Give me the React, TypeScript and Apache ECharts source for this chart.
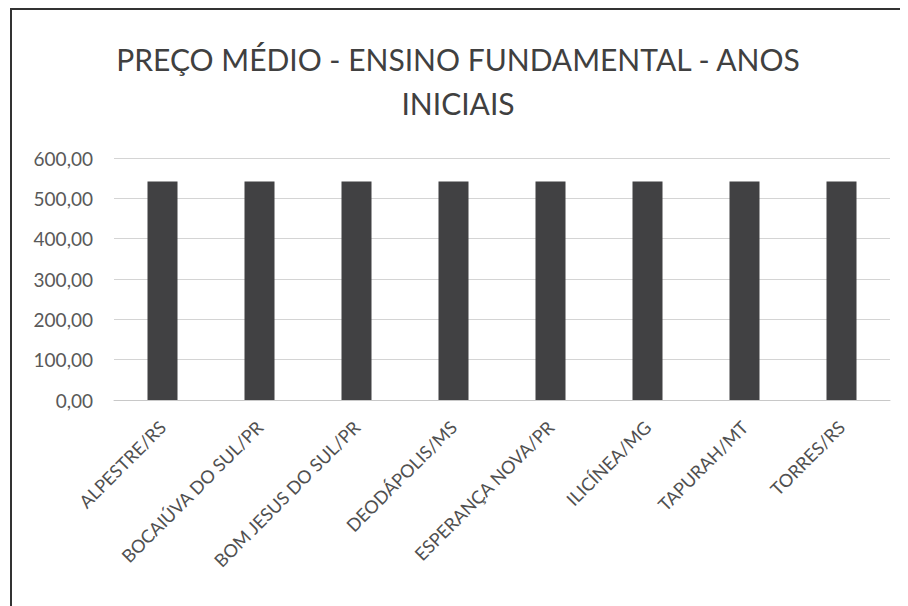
import React, { useEffect, useRef } from "react";
import * as echarts from "echarts";

const categories = [
  "ALPESTRE/RS",
  "BOCAIÚVA DO SUL/PR",
  "BOM JESUS DO SUL/PR",
  "DEODÁPOLIS/MS",
  "ESPERANÇA NOVA/PR",
  "ILICÍNEA/MG",
  "TAPURAH/MT",
  "TORRES/RS",
];
const values = [542, 542, 542, 542, 542, 542, 542, 542];
const titleText = "PREÇO MÉDIO - ENSINO FUNDAMENTAL - ANOS\nINICIAIS";

export default function App() {
  const ref = useRef<HTMLDivElement>(null);
  useEffect(() => {
    if (!ref.current) return;
    const chart = echarts.init(ref.current, undefined, { renderer: "svg" });
    chart.setOption({
      animation: false,
      backgroundColor: "#ffffff",
      graphic: [
        {
          type: "rect",
          shape: { x: 3, y: 1, width: 920, height: 620 },
          style: { fill: "none", stroke: "#333", lineWidth: 2 },
        },
      ],
      title: {
        text: titleText,
        left: "center",
        top: 24,
        textStyle: {
          fontFamily: "Lato",
          fontWeight: "normal",
          fontSize: 30,
          color: "#404040",
          lineHeight: 44,
        },
      },
      grid: { left: 106, right: 18, top: 150, bottom: 206, containLabel: false },
      xAxis: {
        type: "category",
        data: categories,
        axisLine: { lineStyle: { color: "#c8c8c8" } },
        axisTick: { show: false },
        axisLabel: {
          rotate: 45,
          interval: 0,
          fontFamily: "Lato",
          fontSize: 18,
          color: "#505050",
          margin: 24,
        },
      },
      yAxis: {
        type: "value",
        min: 0,
        max: 600,
        interval: 100,
        axisLine: { show: false },
        axisTick: { show: false },
        splitLine: { lineStyle: { color: "#d4d4d4" } },
        axisLabel: {
          formatter: (v: number) => v.toFixed(2).replace(".", ","),
          fontFamily: "Lato",
          fontSize: 19,
          color: "#595959",
          margin: 21,
        },
      },
      series: [
        {
          type: "bar",
          data: values,
          barWidth: 30,
          itemStyle: { color: "#414143" },
        },
      ],
    });
    return () => chart.dispose();
  }, []);
  return <div ref={ref} style={{ width: 900, height: 598 }} />;
}
